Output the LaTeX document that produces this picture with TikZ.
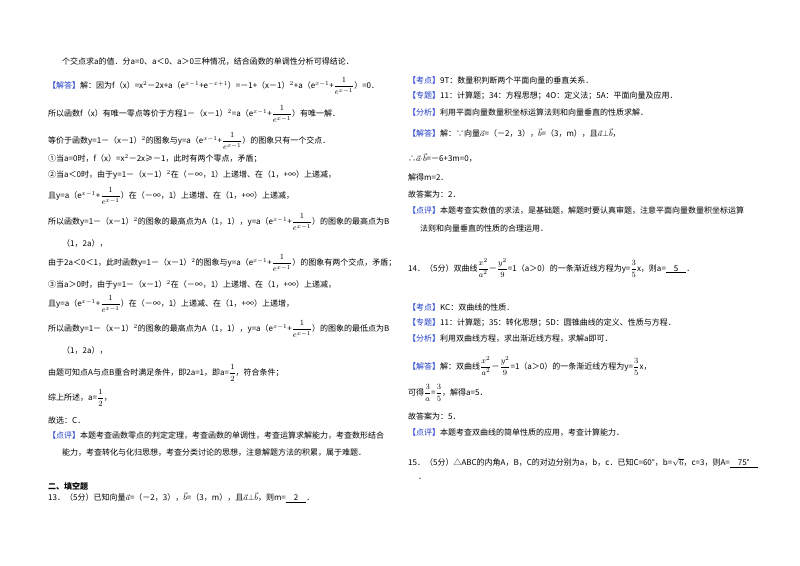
\documentclass[tikz,border=0pt]{standalone}
\usepackage{fontspec}
\setmainfont{Noto Sans CJK SC}
\definecolor{tagblue}{RGB}{30,60,200}
\newcommand{\tg}[1]{\textcolor{tagblue}{【#1】}}
\newcommand{\fr}[2]{$\displaystyle\frac{#1}{#2}$}
\newcommand{\ex}{e$^{x-1}$}
\newcommand{\va}{$\vec{a}$}
\newcommand{\vb}{$\vec{b}$}
\begin{document}
\begin{tikzpicture}[x=1pt,y=-1pt,
  ln/.style={anchor=west,inner sep=0pt,font=\fontsize{8}{10}\selectfont}]
\useasboundingbox (0,0) rectangle (800,565);
\fill[white] (0,0) rectangle (800,565);
% left column
\node[ln] (l1) at (62,62) {个交点求a的值．分a=0、a＜0、a＞0三种情况，结合函数的单调性分析可得结论．};
\node[ln] (l2) at (48,86) {\tg{解答}解：因为f（x）=x$^2$－2x+a（\ex+e$^{-x+1}$）=－1+（x－1）$^2$+a（\ex+\fr{1}{e^{x-1}}）=0．};
\node[ln] (l3) at (48,114) {所以函数f（x）有唯一零点等价于方程1－（x－1）$^2$=a（\ex+\fr{1}{e^{x-1}}）有唯一解．};
\node[ln] (l4) at (48,141) {等价于函数y=1－（x－1）$^2$的图象与y=a（\ex+\fr{1}{e^{x-1}}）的图象只有一个交点．};
\node[ln] (l5) at (48,159) {①当a=0时，f（x）=x$^2$－2x≥－1，此时有两个零点，矛盾；};
\node[ln] (l6) at (48,175) {②当a＜0时，由于y=1－（x－1）$^2$在（－∞，1）上递增、在（1，+∞）上递减，};
\node[ln] (l7) at (48,196) {且y=a（\ex+\fr{1}{e^{x-1}}）在（－∞，1）上递增、在（1，+∞）上递减，};
\node[ln] (l8) at (48,222) {所以函数y=1－（x－1）$^2$的图象的最高点为A（1，1），y=a（\ex+\fr{1}{e^{x-1}}）的图象的最高点为B};
\node[ln] (l9) at (62,243) {（1，2a），};
\node[ln] (l10) at (48,263) {由于2a＜0＜1，此时函数y=1－（x－1）$^2$的图象与y=a（\ex+\fr{1}{e^{x-1}}）的图象有两个交点，矛盾；};
\node[ln] (l11) at (48,285) {③当a＞0时，由于y=1－（x－1）$^2$在（－∞，1）上递增、在（1，+∞）上递减，};
\node[ln] (l12) at (48,304) {且y=a（\ex+\fr{1}{e^{x-1}}）在（－∞，1）上递减、在（1，+∞）上递增，};
\node[ln] (l13) at (48,329) {所以函数y=1－（x－1）$^2$的图象的最高点为A（1，1），y=a（\ex+\fr{1}{e^{x-1}}）的图象的最低点为B};
\node[ln] (l14) at (62,350) {（1，2a），};
\node[ln] (l15) at (48,373) {由题可知点A与点B重合时满足条件，即2a=1，即a=\fr{1}{2}，符合条件；};
\node[ln] (l16) at (48,398) {综上所述，a=\fr{1}{2}，};
\node[ln] (l17) at (48,420) {故选：C．};
\node[ln] (l18) at (48,436) {\tg{点评}本题考查函数零点的判定定理，考查函数的单调性，考查运算求解能力，考查数形结合};
\node[ln] (l19) at (62,453) {能力，考查转化与化归思想，考查分类讨论的思想，注意解题方法的积累，属于难题．};
\node[ln,font=\fontsize{8}{10}\selectfont\bfseries] (l20) at (48,486) {二、填空题};
\node[ln] (l21) at (48,498) {13．（5分）已知向量\va=（－2，3），\vb=（3，m），且\va$\perp$\vb，则m=\underline{\quad 2\quad}．};
% right column
\node[ln] (r1) at (408,80) {\tg{考点}9T：数量积判断两个平面向量的垂直关系．};
\node[ln] (r2) at (408,96) {\tg{专题}11：计算题；34：方程思想；4O：定义法；5A：平面向量及应用．};
\node[ln] (r3) at (408,112) {\tg{分析}利用平面向量数量积坐标运算法则和向量垂直的性质求解．};
\node[ln] (r4) at (408,133) {\tg{解答}解：∵向量\va=（－2，3），\vb=（3，m），且\va$\perp$\vb，};
\node[ln] (r5) at (408,158) {∴\va$\cdot$\vb=－6+3m=0，};
\node[ln] (r6) at (408,177) {解得m=2．};
\node[ln] (r7) at (408,194) {故答案为：2．};
\node[ln] (r8) at (408,211) {\tg{点评}本题考查实数值的求法，是基础题，解题时要认真审题，注意平面向量数量积坐标运算};
\node[ln] (r9) at (420,228) {法则和向量垂直的性质的合理运用．};
\node[ln] (r10) at (408,268) {14．（5分）双曲线\fr{x^2}{a^2}－\fr{y^2}{9}=1（a＞0）的一条渐近线方程为y=\fr{3}{5}x，则a=\underline{\quad 5\quad}．};
\node[ln] (r11) at (408,307) {\tg{考点}KC：双曲线的性质．};
\node[ln] (r12) at (408,323) {\tg{专题}11：计算题；35：转化思想；5D：圆锥曲线的定义、性质与方程．};
\node[ln] (r13) at (408,339) {\tg{分析}利用双曲线方程，求出渐近线方程，求解a即可．};
\node[ln] (r14) at (408,366) {\tg{解答}解：双曲线\fr{x^2}{a^2}－\fr{y^2}{9}=1（a＞0）的一条渐近线方程为y=\fr{3}{5}x，};
\node[ln] (r15) at (408,393) {可得\fr{3}{a}=\fr{3}{5}，解得a=5．};
\node[ln] (r16) at (408,416) {故答案为：5．};
\node[ln] (r17) at (408,433) {\tg{点评}本题考查双曲线的简单性质的应用，考查计算能力．};
\node[ln] (r18) at (408,463) {15．（5分）△ABC的内角A，B，C的对边分别为a，b，c．已知C=60°，b=$\sqrt{6}$，c=3，则A=\underline{\quad 75°\quad}};
\node[ln] (r19) at (418,479) {．};
\end{tikzpicture}
\end{document}
